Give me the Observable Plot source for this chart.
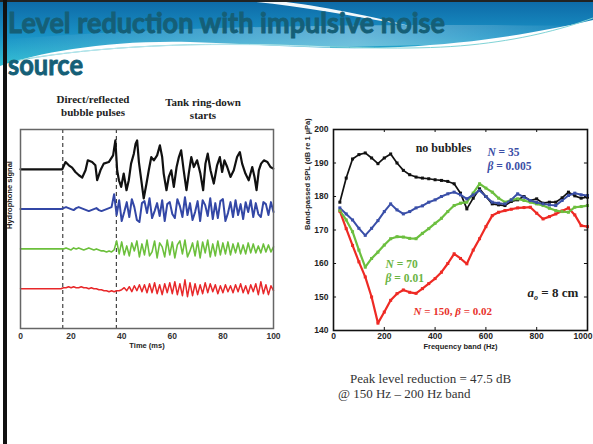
<!DOCTYPE html>
<html><head><meta charset="utf-8">
<script src="https://cdn.jsdelivr.net/npm/d3@7"></script>
<script src="https://cdn.jsdelivr.net/npm/@observablehq/plot@0.6"></script>
<style>
html,body{margin:0;padding:0;background:#fff;}
#slide{position:relative;width:593px;height:444px;overflow:hidden;background:#fff;}
.abs{position:absolute;}
.ann{position:absolute;font-family:"Liberation Serif",serif;font-weight:bold;font-size:11px;color:#222;text-align:center;line-height:13px;white-space:nowrap;}
.note{position:absolute;font-family:"Liberation Serif",serif;font-size:13px;color:#333;white-space:nowrap;line-height:15px;}
</style></head><body>
<div id="slide">
  <svg class="abs" style="left:0;top:0" width="593" height="90">
    <defs>
      <linearGradient id="gb" x1="0" y1="0" x2="0" y2="1">
        <stop offset="0" stop-color="#0d68a6"/>
        <stop offset="0.55" stop-color="#1a93c6"/>
        <stop offset="1" stop-color="#35c0d4"/>
      </linearGradient>
      <linearGradient id="gh" x1="0" y1="0" x2="1" y2="0">
        <stop offset="0" stop-color="#ffffff" stop-opacity="0"/>
        <stop offset="0.6" stop-color="#ffffff" stop-opacity="0.35"/>
        <stop offset="1" stop-color="#ffffff" stop-opacity="0"/>
      </linearGradient>
    </defs>
    <path d="M0 0 H593 V20 C 540 32 480 43 400 47 C 330 51 260 44 190 42 C 110 40 40 52 0 66 Z" fill="url(#gb)"/>
    <path d="M0 40 C 120 30 300 22 593 26 V40 C 480 46 300 44 0 62 Z" fill="url(#gh)"/>
    <path d="M232 0 C 290 4 345 15 410 26 C 350 11 300 3 268 0 Z" fill="#ffffff" opacity="0.95"/>
    <path d="M10 62 C 80 48 180 42 280 45 C 360 48 420 50 470 45 C 520 40 560 30 593 18" fill="none" stroke="#7fd3d6" stroke-width="1"/>
    <path d="M30 58 C 120 44 220 42 330 47" fill="none" stroke="#b8e6ee" stroke-width="1"/>
    <text x="8" y="33" textLength="437" lengthAdjust="spacingAndGlyphs" font-family="Lato, 'Open Sans', sans-serif" font-weight="bold" font-size="29" fill="#155f77" stroke="#155f77" stroke-width="0.9">Level reduction with impulsive noise</text>
    <text x="8" y="75" textLength="75" lengthAdjust="spacingAndGlyphs" font-family="Lato, 'Open Sans', sans-serif" font-weight="bold" font-size="29" fill="#155f77" stroke="#155f77" stroke-width="0.9">source</text>
  </svg>
  <div class="abs" style="left:0;top:0;width:593px;height:2px;background:#222"></div>
  <div class="abs" style="left:3px;top:0;width:4px;height:444px;background:#111"></div>

  <div class="ann" style="left:43px;top:93px;width:100px">Direct/reflected<br>bubble pulses</div>
  <div class="ann" style="left:153px;top:96px;width:100px">Tank ring-down<br>starts</div>

  <div id="left" class="abs" style="left:0;top:120px"></div>
  <div id="right" class="abs" style="left:300px;top:120px"></div>

  <div class="note" style="left:350px;top:371px">Peak level reduction = 47.5 dB</div>
  <div class="note" style="left:338px;top:386px">@ 150 Hz – 200 Hz band</div>
</div>
<script>
// ---------------- LEFT CHART DATA: hydrophone time signals ----------------
const timeTicks = [0, 20, 40, 60, 80, 100];
const eventTimes = [16.7, 37.9]; // direct/reflected pulses, tank ring-down start
const sampleMs = 1;

const blackTimes = [0,16.5,17.8,19.1,20.4,21.7,23.1,24.4,25.7,26.6,28.3,29.6,30.3,31.6,32.9,34.9,36.6,37.5,38.2,38.9,39.8,40.8,41.9,42.8,43.7,44.8,45.5,46.1,46.8,47.4,48.7,49.8,50.7,51.7,52.7,54.0,55.1,56.0,56.6,57.7,58.6,59.6,60.6,61.7,62.6,63.5,64.5,65.6,66.5,67.5,68.5,69.8,71.1,72.2,73.1,74.0,75.1,76.4,77.7,78.8,79.7,80.6,81.7,83.0,84.3,85.6,86.7,87.6,88.9,90.2,91.6,92.5,93.3,94.2,95.1,96.2,97.6,98.8,99.9];
const blackSignal = [0,0,7.3,4,1.7,-2.7,-6,-8.3,-1,9,7.3,4,-11,-1,5.7,7.3,14,29,-1,-11,-17.7,-4.3,-21,-11,5.7,15.7,25.7,29,7.3,-4.3,-29.3,-14.3,-1,12.3,9,14,24,12.3,-4.3,-21,-7.7,-1,-17.7,2.3,12.3,19,-1,-21,-4.3,12.3,2.3,9,-4.3,-21,5.7,15.7,-1,-14.3,4,12.3,-2.7,9,2.3,-7.7,-1,12.3,17.3,5.7,-4.3,-11,2.3,-7.7,-21,-1,5.7,9,7.3,2.3,0.7];

const blueSignal = [0,0,0,0,0,0,0,0,0,0,0,0,0,0,0,0,0,
  1,2,1,0,-1,1,2,1,0,-1,-2,-1,0,1,-1,-2,-1,0,1,2,
  15,-6,9,-12,-3,7,-8,10,2,-11,
  -13,6,8,-4,11,-9,-2,6,-7,9,
  -12,5,7,-5,-9,10,3,-8,12,-6,
  6,-11,-3,8,-12,9,4,-7,11,-10,
  6,-9,8,10,-12,-4,7,-8,9,-6,
  5,-10,7,-3,9,-8,6,-5,-8,7,
  5,-6,7,-3];
const greenSignal = [0,0,0,0,0,0,0,0,0,0,0,0,0,0,0,0,0,
  0,1,0,-1,1,0,1,0,-1,0,1,0,-1,0,
  -1,-2,-2,-3,-2,-3,-1,
  8,-5,7,-6,3,-7,6,-2,8,-8,
  5,-6,9,-7,-3,8,-9,6,2,-8,
  9,-6,7,-9,4,8,-5,9,-8,-2,
  6,-7,8,-9,7,-4,9,-8,5,-7,
  8,-6,6,-5,7,-6,5,-4,6,-5,
  4,-5,6,-4,5,-4,3,-4,5,-3,
  4,-3,2];
const redSignal = [0,0,0,0,0,0,0,0,0,0,0,0,0,0,0,0,0,
  1,1,2,1,2,1,1,2,1,1,0,1,0,0,
  -1,-1,-2,-2,-3,-2,-3,-2,-2,-1,
  1,-2,2,-3,3,-2,4,-3,4,-4,
  5,-4,6,-5,4,-6,5,-4,6,-5,
  7,-6,5,-7,9,-8,6,-7,5,-6,
  4,-5,6,-4,5,-3,4,-5,3,-4,
  4,-3,3,-4,4,-3,5,-4,3,-5,
  4,-3,5,-6,7,-5,4,-6,3,-2];

// ---------------- RIGHT CHART DATA: band levels ----------------
const freqTicks = [0, 200, 400, 600, 800, 1000];
const levelTicks = [140, 150, 160, 170, 180, 190, 200];
const freqBands = [25,50,75,100,125,150,175,200,225,250,275,300,325,350,375,400,425,450,475,500,525,550,575,600,625,650,675,700,725,750,775,800,825,850,875,900,925,950,975,1000];
const levelNoBubbles = [178.3,185.5,191.2,192.5,193,191.5,189.8,191.5,192.7,190,187.8,186.5,185.8,185.5,185.3,185,184.8,184.5,183.8,181,176.3,179.5,182.3,180,177.8,177.5,177.3,178.5,179,180,178.8,179.3,178,178.3,178.3,179.6,181.3,180.2,179.5,179.8];
const levelN35 = [176.6,174.8,173,170.5,168.4,170.5,172.8,175.5,177.8,176,174.8,175.5,176.6,177.2,178.3,179,180,180.8,181.3,180.5,179.3,180.5,181.8,180,178.3,178,177.8,179,180.8,179.8,178.8,178.2,177.8,177.5,177.3,178.8,180.3,181,180.5,180.3];
const levelN70 = [175.8,173,169.5,164,158.9,161.5,163.4,165.5,167.4,168,167.9,167.5,167.4,169,170.4,172,173.5,175.5,177.3,178,178.3,181,183.8,182.5,181.3,179.5,178.3,179,179.3,178.8,178.3,177.8,177.3,176.5,175.8,175.5,175.3,176.8,177,177.3];
const levelN150 = [175.6,170.4,165.4,160.5,156,150,142.2,145.5,149,151,152.1,151.4,151.1,152.5,154,155.5,157.4,160,162.9,161.5,159.9,164,167.4,171,174.3,175.3,175.8,176.2,176.6,176.7,176.8,175,173.3,174,174.8,175.7,176.6,174.5,171.3,171];

// texts
const annotTexts = ["no bubbles", "N = 35", "β = 0.005", "N = 70", "β = 0.01", "N = 150, β = 0.02", "a_o = 8 cm"];
const axisLabels = {leftX: "Time (ms)", leftY: "Hydrophone signal", rightX: "Frequency band (Hz)", rightY: "Band-passed SPL (dB re 1 µPa)"};

// ---------------- build ----------------
const traceOffset = {black: 160, blue: 120, green: 80, red: 40};
const blackTable = blackTimes.map((t, i) => ({t, v: blackSignal[i] + traceOffset.black}));
const sampled = (vals, off) => vals.map((v, i) => ({t: i * sampleMs, v: v + off}));
const lbl = {fontFamily: "Liberation Sans", fontWeight: "bold", fill: "#222"};

const leftPlot = Plot.plot({
  width: 290, height: 240,
  marginLeft: 20, marginRight: 17, marginTop: 9, marginBottom: 32,
  style: "background:none;font-family:'Liberation Sans',sans-serif;font-size:8.5px;font-weight:bold;color:#333;overflow:visible;",
  x: {domain: [0, 100], ticks: timeTicks, tickSize: 0, tickPadding: 4, tickFormat: d => String(d), label: null},
  y: {domain: [0, 200], axis: null},
  marks: [
    Plot.ruleX(eventTimes, {stroke: "#444", strokeWidth: 1.2, strokeDasharray: "4,3"}),
    Plot.line(blackTable, {x: "t", y: "v", stroke: "#111", strokeWidth: 2.2}),
    Plot.line(sampled(blueSignal, traceOffset.blue), {x: "t", y: "v", stroke: "#3347a6", strokeWidth: 2}),
    Plot.line(sampled(greenSignal, traceOffset.green), {x: "t", y: "v", stroke: "#6cc03c", strokeWidth: 1.6}),
    Plot.line(sampled(redSignal, traceOffset.red), {x: "t", y: "v", stroke: "#e8282a", strokeWidth: 1.5}),
    Plot.frame({stroke: "#666", strokeWidth: 1.5}),
    Plot.text([axisLabels.leftY], {text: d => d, frameAnchor: "left", dx: -11, rotate: -90, fontSize: 7.5, ...lbl}),
    Plot.text([axisLabels.leftX], {text: d => d, frameAnchor: "bottom", dy: 19, fontSize: 7.5, ...lbl})
  ]
});
document.getElementById("left").appendChild(leftPlot);

const table = vals => freqBands.map((f, i) => ({f, db: vals[i]}));
const series = [
  {vals: levelNoBubbles, color: "#111111", w: 1.7},
  {vals: levelN150, color: "#ee2a24", w: 2.2},
  {vals: levelN70, color: "#6cbf3f", w: 2.2},
  {vals: levelN35, color: "#3a4fa8", w: 2}
];
const tl = {x: 12, y: 0.9};
const rightPlot = Plot.plot({
  width: 293, height: 240,
  marginLeft: 33, marginRight: 6, marginTop: 9, marginBottom: 30,
  style: "background:none;font-family:'Liberation Sans',sans-serif;font-size:8.5px;font-weight:bold;color:#222;overflow:visible;",
  x: {domain: [0, 1000], axis: null},
  y: {domain: [140, 200], ticks: levelTicks, tickSize: 0, tickPadding: 5, label: null},
  marks: [
    Plot.ruleX(freqTicks, {y1: 140, y2: 140 + tl.y, stroke: "#111"}),
    Plot.ruleX(freqTicks, {y1: 200, y2: 200 - tl.y, stroke: "#111"}),
    Plot.ruleY(levelTicks, {x1: 0, x2: tl.x, stroke: "#111"}),
    Plot.ruleY(levelTicks, {x1: 1000, x2: 1000 - tl.x, stroke: "#111"}),
    ...series.map(s => Plot.line(table(s.vals), {x: "f", y: "db", stroke: s.color, strokeWidth: s.w})),
    ...series.map(s => Plot.dot(table(s.vals), {x: "f", y: "db", fill: s.color, r: 1.7, symbol: "square"})),
    Plot.frame({stroke: "#111", strokeWidth: 1.6}),
    Plot.text(freqTicks.slice(0, -1), {x: d => d, text: d => String(d), frameAnchor: "bottom", dy: 8, fontSize: 8.5, ...lbl}),
    Plot.text(freqTicks.slice(-1), {x: d => d, text: d => String(d), frameAnchor: "bottom", dy: 8, dx: 5, textAnchor: "end", fontSize: 8.5, ...lbl}),
    Plot.text([axisLabels.rightX], {text: d => d, frameAnchor: "bottom", dy: 18, fontSize: 7.5, ...lbl}),
    Plot.text([axisLabels.rightY], {text: d => d, frameAnchor: "left", dx: -26, rotate: -90, fontSize: 7.5, ...lbl}),
    Plot.text([annotTexts[0]], {text: d => d, x: 433, y: 194.3, textAnchor: "middle", fontFamily: "Liberation Serif", fontWeight: "bold", fontSize: 12, fill: "#222"}),
    Plot.text([annotTexts[1]], {text: d => d, x: 606, y: 193.1, textAnchor: "start", fontFamily: "Liberation Serif", fontWeight: "bold", fontSize: 11.5, fill: "#3b4ea6"}),
    Plot.text([annotTexts[2]], {text: d => d, x: 606, y: 189, textAnchor: "start", fontFamily: "Liberation Serif", fontWeight: "bold", fontSize: 11.5, fill: "#3b4ea6"}),
    Plot.text([annotTexts[3]], {text: d => d, x: 205, y: 159.7, textAnchor: "start", fontFamily: "Liberation Serif", fontWeight: "bold", fontSize: 11.5, fill: "#6bb443"}),
    Plot.text([annotTexts[4]], {text: d => d, x: 205, y: 155.5, textAnchor: "start", fontFamily: "Liberation Serif", fontWeight: "bold", fontSize: 11.5, fill: "#6bb443"}),
    Plot.text([annotTexts[5]], {text: d => d, x: 315, y: 145.7, textAnchor: "start", fontFamily: "Liberation Serif", fontWeight: "bold", fontSize: 11, fill: "#e8312a"}),
    Plot.text([annotTexts[6]], {text: d => d, x: 764, y: 151.3, textAnchor: "start", fontFamily: "Liberation Serif", fontWeight: "bold", fontSize: 13, fill: "#222"})
  ]
});
document.getElementById("right").appendChild(rightPlot);

// rich text styling (italic N / β, subscript o)
const rich = {
  "N = 35": '<tspan font-style="italic">N</tspan> = 35',
  "β = 0.005": '<tspan font-style="italic">β</tspan> = 0.005',
  "N = 70": '<tspan font-style="italic">N</tspan> = 70',
  "β = 0.01": '<tspan font-style="italic">β</tspan> = 0.01',
  "N = 150, β = 0.02": '<tspan font-style="italic">N</tspan> = 150, <tspan font-style="italic">β</tspan> = 0.02',
  "a_o = 8 cm": '<tspan font-style="italic">a</tspan><tspan font-size="8" font-style="italic" dy="3">o</tspan><tspan dy="-3"> = 8 cm</tspan>'
};
rightPlot.querySelectorAll("text").forEach(t => {
  const s = t.textContent;
  if (rich[s]) t.innerHTML = rich[s];
});
</script>
</body></html>
